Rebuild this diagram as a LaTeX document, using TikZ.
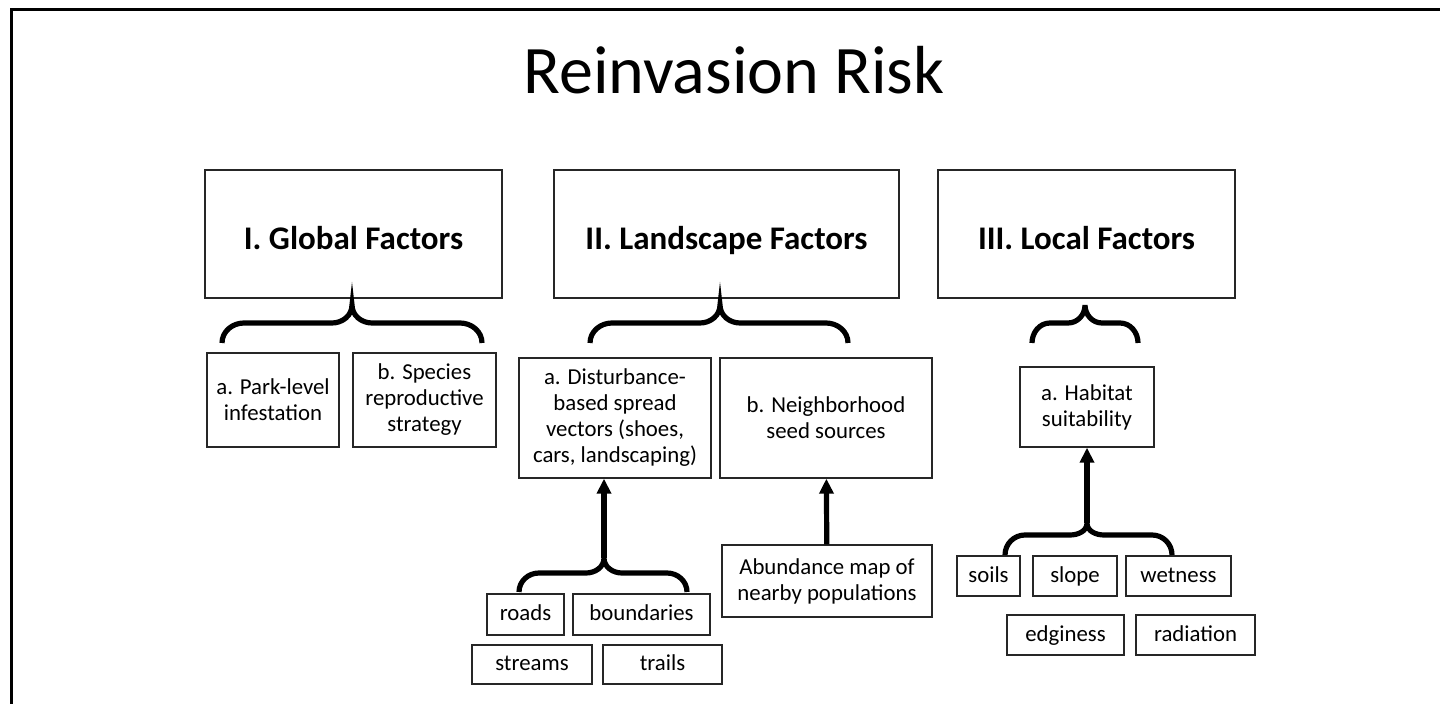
\documentclass[tikz,border=0pt]{standalone}
\usepackage{fontspec}
\setmainfont{Carlito}
\usetikzlibrary{arrows.meta,calc}
\tikzset{
	factor/.style={
		rectangle, draw=black!85, line width=0.75pt, inner sep=0pt,
		font=\bfseries\fontsize{16.5}{19}\selectfont, minimum height=64pt,
		text height=16pt, text depth=0pt
	},
	%
	sub/.style={
		rectangle, draw=black!85, line width=0.7pt, inner sep=0pt,
		align=center, font=\fontsize{11.4}{13}\selectfont
	},
	%
	word/.style={
		sub, text height=9pt, text depth=2.5pt
	},
	%
	brace/.style={
		line width=2.6pt, black
	},
	%
	up/.style={
		line width=2.6pt, -{Triangle[length=7.5pt,width=7pt]}
	}
}
\begin{document}
\begin{tikzpicture}[x=0.5pt,y=-0.5pt]
    \useasboundingbox (0,0) rectangle (1440,704);
    \draw[line width=1.5pt] (11,704) -- (11,10) -- (1440,10);
    \node(title)[font=\fontsize{34}{40}\selectfont] at (734,70) {Reinvasion Risk};
    % level I
    \node(glob)[factor, minimum width=148.5pt] at (353.5,234) {I. Global Factors};
    \node(land)[factor, minimum width=172.5pt] at (726.5,234) {II. Landscape Factors};
    \node(loc)[factor, minimum width=148.5pt] at (1086.5,234) {III. Local Factors};
    % level a/b
    \node(park)[sub, minimum width=66pt, minimum height=47pt] at (273,400) {a. Park-level\\infestation};
    \node(spec)[sub, minimum width=71.5pt, minimum height=47pt] at (424.5,400) {b. Species\\reproductive\\strategy};
    \node(dist)[sub, minimum width=96pt, minimum height=60pt] at (615,418) {a. Disturbance-\\based spread\\vectors (shoes,\\cars, landscaping)};
    \node(neigh)[sub, minimum width=106pt, minimum height=60pt] at (826,418) {b. Neighborhood\\seed sources};
    \node(hab)[sub, minimum width=67pt, minimum height=40pt] at (1087,407) {a. Habitat\\suitability};
    % inputs
    \node(abun)[sub, minimum width=105pt, minimum height=36pt] at (827,581) {Abundance map of\\nearby populations};
    \node(roads)[word, minimum width=38.5pt, minimum height=20.5pt] at (525.5,614.5) {roads};
    \node(bound)[word, minimum width=68.5pt, minimum height=20.5pt] at (641.5,614.5) {boundaries};
    \node(strm)[word, minimum width=60pt, minimum height=19.5pt] at (532,664.5) {streams};
    \node(trl)[word, minimum width=59.5pt, minimum height=19.5pt] at (662.5,664.5) {trails};
    \node(soil)[word, minimum width=31.5pt, minimum height=20pt] at (988.5,576) {soils};
    \node(slope)[word, minimum width=42pt, minimum height=20pt] at (1075,576) {slope};
    \node(wet)[word, minimum width=52.5pt, minimum height=20pt] at (1178.5,576) {wetness};
    \node(edg)[word, minimum width=58.5pt, minimum height=20pt] at (1065.5,635) {edginess};
    \node(rad)[word, minimum width=59.5pt, minimum height=20pt] at (1195.5,635) {radiation};
    % braces under the factors
    \draw[brace] (222,343) to[out=90,in=180] (244,323) -- (332,323) to[out=0,in=-90] (352,305)
        to[out=-90,in=180] (372,323) -- (460,323) to[out=0,in=90] (482,343);
    \draw[brace] (590,343) to[out=90,in=180] (612,323) -- (700,323) to[out=0,in=-90] (720,305)
        to[out=-90,in=180] (740,323) -- (826,323) to[out=0,in=90] (848,343);
    \draw[brace] (1032,343) to[out=90,in=180] (1050,323) -- (1068,323) to[out=0,in=-90] (1085,305)
        to[out=-90,in=180] (1102,323) -- (1120,323) to[out=0,in=90] (1138,343);
    % braces joining the inputs
    \coordinate(dcusp) at (604,558);
    \draw[brace] (519,592) to[out=90,in=180] (539,573) -- (586,573) to[out=0,in=-90] (dcusp)
        to[out=-90,in=180] (622,573) -- (667,573) to[out=0,in=90] (687,592);
    \coordinate(hcusp) at (1087,523);
    \draw[brace] (1005,555) to[out=90,in=180] (1025,535) -- (1070,535) to[out=0,in=-90] (hcusp)
        to[out=-90,in=180] (1104,535) -- (1152,535) to[out=0,in=90] (1172,555);
    \draw[up] (dcusp) -- (dcusp |- dist.south);
    \draw[up] (abun) -- (neigh);
    \draw[up] (hcusp) -- (hab);
\end{tikzpicture}
\end{document}
